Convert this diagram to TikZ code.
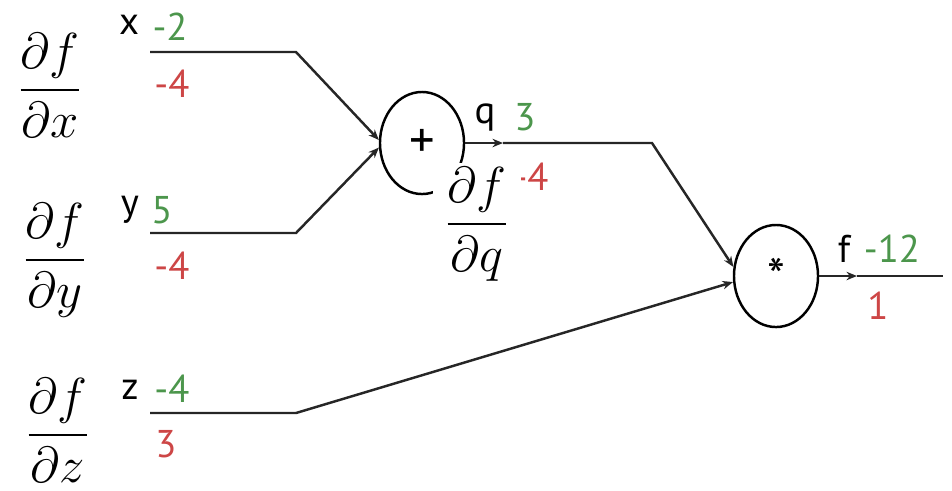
\documentclass[tikz,border=0pt]{standalone}
\usepackage{fontspec}
\setsansfont{PT Sans}
\usepackage{xcolor}
\usepackage{tikz}
\usetikzlibrary{arrows.meta, shapes.geometric, calc}
\usepackage{amsmath}

\definecolor{fwdgreen}{RGB}{76,150,76}
\definecolor{bwdred}{RGB}{205,70,70}

\begin{document}
\begin{tikzpicture}[
  >={Stealth[length=3pt,width=2.4pt]},
  x=0.01cm, y=-0.01cm,
  wire/.style={line width=0.7pt, black!85},
  gate/.style={draw, ellipse, line width=0.7pt, minimum width=0.84cm, minimum height=1.02cm, inner sep=0pt, font=\sffamily\Large},
  var/.style={font=\sffamily\fontsize{11}{13}\selectfont},
  fwd/.style={font=\sffamily\fontsize{11}{13}\selectfont, fwdgreen},
  bwd/.style={font=\sffamily\fontsize{11}{13}\selectfont, bwdred},
  grad/.style={font=\Large, fill=white, inner sep=1pt},
]
\useasboundingbox (0,0) rectangle (952,490);

% --- Gates ---
\node[gate] (plus) at (422,143) {+};
\node[gate] (star) at (776,276) {*};

% --- Input x ---
\coordinate (x0) at (150,52);
\coordinate (x1) at (296,52);
\draw[wire, ->] (x0) -- (x1) -- (plus.176);
\node[var] (xname) at (129,25) {x};
\node[fwd] (xval) at (170,27) {-2};
\node[bwd] (xgrad) at (172,84) {-4};
\node[grad] (dfdx) at (50,85) {$\dfrac{\partial f}{\partial x}$};

% --- Input y ---
\coordinate (y0) at (150,233);
\coordinate (y1) at (296,233);
\draw[wire, ->] (y0) -- (y1) -- (plus.186);
\node[var] (yname) at (130,210) {y};
\node[fwd] (yval) at (162,210) {5};
\node[bwd] (ygrad) at (172,266) {-4};
\node[grad] (dfdy) at (55,260) {$\dfrac{\partial f}{\partial y}$};

% --- Input z ---
\coordinate (z0) at (150,413);
\coordinate (z1) at (296,413);
\draw[wire, ->] (z0) -- (z1) -- (star.188);
\node[var] (zname) at (130,390) {z};
\node[fwd] (zval) at (172,389) {-4};
\node[bwd] (zgrad) at (166,444) {3};
\node[grad] (dfdz) at (58,430) {$\dfrac{\partial f}{\partial z}$};

% --- Intermediate q ---
\coordinate (qtip) at (503,143);
\coordinate (q1) at (652,143);
\draw[wire, ->] (plus.east) -- (qtip);
\draw[wire, ->] (qtip) -- (q1) -- (star.168);
\node[var] (qname) at (485,118) {q};
\node[fwd] (qval) at (525,117) {3};
\node[bwd] (qgrad) at (531,177) {-4};
\node[grad, inner xsep=3pt] (dfdq) at (477,224) {$\dfrac{\partial f}{\partial q}$};

% --- Output f ---
\coordinate (ftip) at (857,276);
\coordinate (fend) at (943,276);
\draw[wire, ->] (star.east) -- (ftip);
\draw[wire] (ftip) -- (fend);
\node[var] (fname) at (844,249) {f};
\node[fwd] (fval) at (892,249) {-12};
\node[bwd] (fgrad) at (878,306) {1};

\end{tikzpicture}
\end{document}
